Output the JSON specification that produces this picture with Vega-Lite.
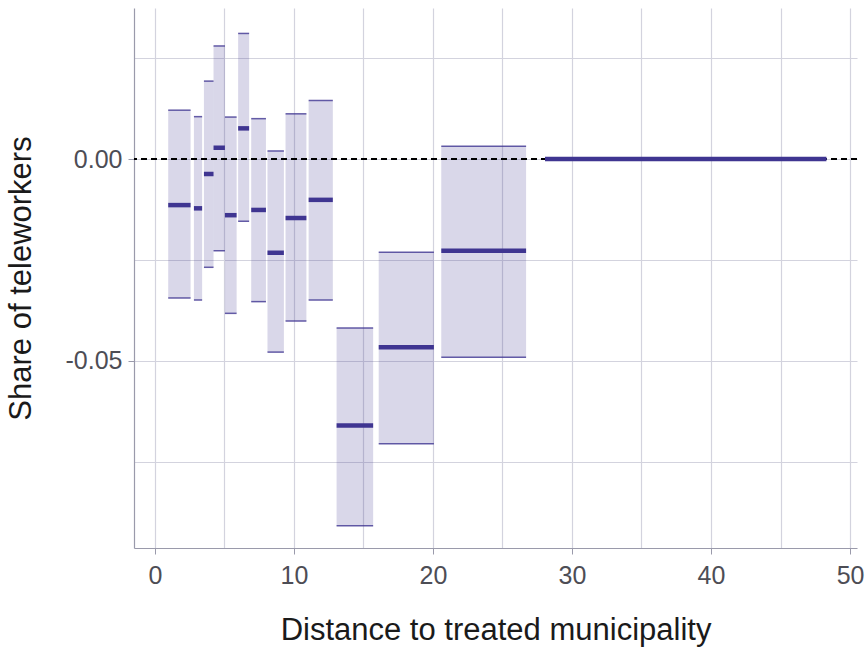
{
  "$schema": "https://vega.github.io/schema/vega-lite/v6.json",
  "width": 723,
  "height": 540,
  "autosize": "none",
  "padding": {"left": 134, "top": 8, "right": 8, "bottom": 102},
  "background": "white",
  "config": {
    "view": {"stroke": null},
    "font": "Liberation Sans",
    "axis": {
      "labelFont": "Liberation Sans",
      "titleFont": "Liberation Sans",
      "labelFontSize": 25,
      "titleFontSize": 31,
      "titleFontWeight": "normal",
      "labelColor": "#4d4d55",
      "titleColor": "#1a1a1a",
      "gridColor": "#d3d3de",
      "gridWidth": 1.2,
      "domainColor": "#9a9aab",
      "domainWidth": 1.2,
      "tickColor": "#9a9aab",
      "tickSize": 6
    }
  },
  "data": {
    "values": [
      {"xlo": 0.96, "xhi": 2.57, "est": -0.0114, "lo": -0.0344, "hi": 0.0121},
      {"xlo": 2.81, "xhi": 3.40, "est": -0.0122, "lo": -0.0349, "hi": 0.0105},
      {"xlo": 3.53, "xhi": 4.22, "est": -0.0037, "lo": -0.0268, "hi": 0.0193},
      {"xlo": 4.22, "xhi": 5.04, "est": 0.0028, "lo": -0.0227, "hi": 0.0280},
      {"xlo": 5.04, "xhi": 5.88, "est": -0.0139, "lo": -0.0382, "hi": 0.0104},
      {"xlo": 5.99, "xhi": 6.78, "est": 0.0076, "lo": -0.0154, "hi": 0.0311},
      {"xlo": 6.93, "xhi": 7.99, "est": -0.0126, "lo": -0.0353, "hi": 0.0100},
      {"xlo": 8.10, "xhi": 9.28, "est": -0.0232, "lo": -0.0478, "hi": 0.0020},
      {"xlo": 9.40, "xhi": 10.90, "est": -0.0146, "lo": -0.0401, "hi": 0.0112},
      {"xlo": 11.06, "xhi": 12.80, "est": -0.0101, "lo": -0.0349, "hi": 0.0145},
      {"xlo": 13.07, "xhi": 15.70, "est": -0.0660, "lo": -0.0908, "hi": -0.0418},
      {"xlo": 16.10, "xhi": 20.07, "est": -0.0466, "lo": -0.0705, "hi": -0.0231},
      {"xlo": 20.60, "xhi": 26.70, "est": -0.0227, "lo": -0.0491, "hi": 0.0032},
      {"xlo": 28.06, "xhi": 48.30, "est": 0, "lo": 0, "hi": 0}
    ]
  },
  "layer": [
    {
      "mark": {"type": "rect", "color": "#3f3591", "opacity": 0.2},
      "encoding": {
        "x": {
          "field": "xlo", "type": "quantitative",
          "scale": {"domain": [-1.5, 50.5], "nice": false, "zero": false},
          "axis": {
            "title": "Distance to treated municipality",
            "values": [0, 5, 10, 15, 20, 25, 30, 35, 40, 45, 50],
            "labelExpr": "datum.value % 10 === 0 ? datum.label : ''",
            "tickOpacity": {"expr": "datum.value % 10 === 0 ? 1 : 0"},
            "labelPadding": 9,
            "titlePadding": 27
          }
        },
        "x2": {"field": "xhi"},
        "y": {
          "field": "lo", "type": "quantitative",
          "scale": {"domain": [-0.0963, 0.0374], "nice": false, "zero": false},
          "axis": {
            "title": "Share of teleworkers",
            "values": [-0.075, -0.05, -0.025, 0, 0.025],
            "labelExpr": "abs(datum.value) < 1e-9 ? '0.00' : abs(datum.value + 0.05) < 1e-9 ? '-0.05' : ''",
            "tickOpacity": {"expr": "abs(datum.value) < 1e-9 || abs(datum.value + 0.05) < 1e-9 ? 1 : 0"},
            "labelPadding": 6,
            "titlePadding": 28
          }
        },
        "y2": {"field": "hi"}
      }
    },
    {
      "mark": {"type": "rule", "color": "black", "strokeDash": [6, 4], "strokeWidth": 1.5},
      "encoding": {"y": {"datum": 0}}
    },
    {
      "mark": {"type": "rule", "color": "#3f3591", "strokeWidth": 1.5, "opacity": 0.8},
      "encoding": {
        "x": {"field": "xlo", "type": "quantitative"},
        "x2": {"field": "xhi"},
        "y": {"field": "hi", "type": "quantitative"}
      }
    },
    {
      "mark": {"type": "rule", "color": "#3f3591", "strokeWidth": 1.5, "opacity": 0.8},
      "encoding": {
        "x": {"field": "xlo", "type": "quantitative"},
        "x2": {"field": "xhi"},
        "y": {"field": "lo", "type": "quantitative"}
      }
    },
    {
      "mark": {"type": "rule", "color": "#3f3591", "strokeWidth": 4.5},
      "encoding": {
        "x": {"field": "xlo", "type": "quantitative"},
        "x2": {"field": "xhi"},
        "y": {"field": "est", "type": "quantitative"}
      }
    }
  ]
}
